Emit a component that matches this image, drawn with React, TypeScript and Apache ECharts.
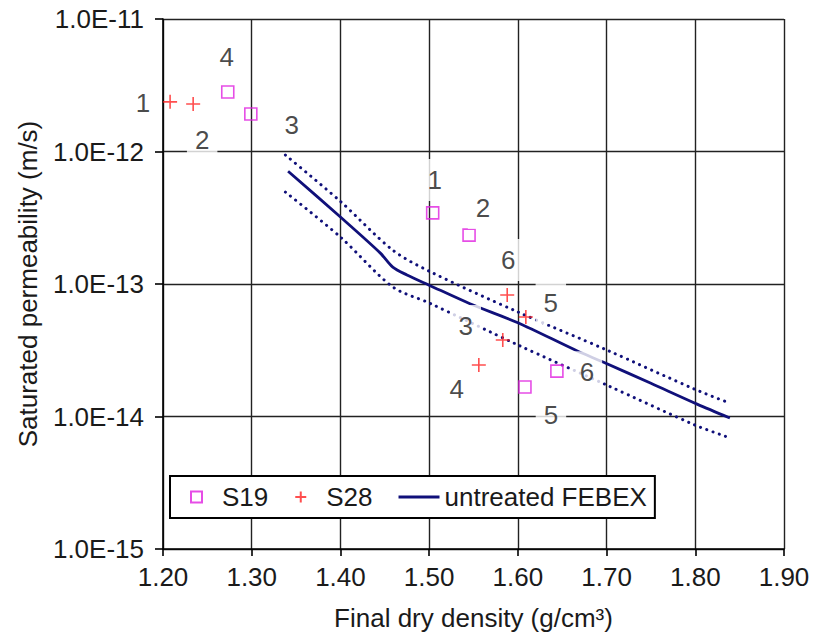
import { useEffect, useRef } from "react";
import * as echarts from "echarts";

// S19 specimens (hollow squares)
const S19_DENSITY = [1.273, 1.299, 1.504, 1.545, 1.644, 1.608];
const S19_PERM = [2.81e-12, 1.92e-12, 3.44e-13, 2.34e-13, 2.2e-14, 1.67e-14];
const S19_TAGS = ["4", "3", "1", "2", "6", "5"];

// S28 specimens (crosses)
const S28_DENSITY = [1.208, 1.234, 1.588, 1.609, 1.583, 1.556];
const S28_PERM = [2.37e-12, 2.28e-12, 8.26e-14, 5.63e-14, 3.78e-14, 2.45e-14];
const S28_TAGS = ["1", "2", "6", "5", "3", "4"];

// untreated FEBEX reference curve and its bounds
const FEBEX_DENSITY = [1.341, 1.4, 1.445, 1.459, 1.475, 1.5, 1.546, 1.6, 1.667, 1.696, 1.75, 1.802, 1.839];
const FEBEX_PERM = [7.1e-13, 3.2e-13, 1.71e-13, 1.34e-13, 1.17e-13, 9.8e-14, 7.1e-14, 5.1e-14, 3.12e-14, 2.58e-14, 1.78e-14, 1.24e-14, 9.75e-15];
const BOUND_DENSITY = [1.338, 1.4, 1.459, 1.5, 1.6, 1.7, 1.8, 1.839];
const UPPER_PERM = [9.4e-13, 4.2e-13, 1.8e-13, 1.25e-13, 6.15e-14, 3.18e-14, 1.6e-14, 1.26e-14];
const LOWER_PERM = [4.94e-13, 2.26e-13, 9.5e-14, 7.2e-14, 3.47e-14, 1.73e-14, 8.6e-15, 6.9e-15];

// where each specimen number sits relative to its marker (px)
const S19_TAG_OFFSET = [[-1, -35], [41, 11], [2, -33], [14, -27], [30, 1], [26, 28]];
const S28_TAG_OFFSET = [[-27, 1], [9, 36], [1, -35], [25, -14], [-37, -14], [-22, 24]];

const FONT = 'Arial, "Liberation Sans", sans-serif';
const FS = 26;
const INK = "#1a1a1a";
const MAGENTA = "#e020e0";
const RED = "#ff2222";
const NAVY = "#10107a";
const PLUS = "path://M5,0L5,10M0,5L10,5";
const SQUARE = "path://M0,0L10,0L10,10L0,10Z";
const BAR = "path://M0,0L40,0L40,3L0,3Z";

const tagLabel = (text: string, offset: number[]) => ({
  show: true,
  position: "inside",
  formatter: text,
  offset,
  fontSize: FS,
  fontFamily: FONT,
  color: INK,
  backgroundColor: "#ffffff",
  padding: [8, 8],
});

const pairs = (xs: number[], ys: number[]) => xs.map((x, i) => [x, ys[i]]);

export default function App() {
  const ref = useRef<HTMLDivElement>(null);

  useEffect(() => {
    if (!ref.current) return;
    const chart = echarts.init(ref.current, undefined, { renderer: "svg" });

    const axisText = { fontSize: FS, fontFamily: FONT, color: INK };
    const dotted = { color: NAVY, width: 3, type: [0.1, 6.5], cap: "round" };

    chart.setOption({
      animation: false,
      backgroundColor: "#ffffff",
      grid: { left: 163, top: 19, right: 29, bottom: 88, containLabel: false },
      xAxis: {
        type: "value",
        min: 1.2,
        max: 1.9,
        interval: 0.1,
        name: "Final dry density (g/cm³)",
        nameLocation: "middle",
        nameGap: 56,
        nameTextStyle: { fontSize: FS, fontFamily: FONT, color: INK },
        axisLine: { show: true, lineStyle: { color: "#000", width: 1.6 } },
        axisTick: { show: true, length: 7, lineStyle: { color: "#000", width: 1.6 } },
        axisLabel: { ...axisText, margin: 15, formatter: (v: number) => v.toFixed(2) },
        splitLine: { show: true, lineStyle: { color: "#222", width: 1.4 } },
      },
      yAxis: {
        type: "log",
        logBase: 10,
        min: 1e-15,
        max: 1e-11,
        name: "Saturated permeability (m/s)",
        nameLocation: "middle",
        nameGap: 122,
        nameTextStyle: { fontSize: FS, fontFamily: FONT, color: INK },
        axisLine: { show: true, lineStyle: { color: "#000", width: 1.6 } },
        axisTick: { show: true, length: 8, lineStyle: { color: "#000", width: 1.6 } },
        axisLabel: {
          ...axisText,
          margin: 19,
          formatter: (v: number) => v.toExponential(1).toUpperCase(),
        },
        splitLine: { show: true, lineStyle: { color: "#222", width: 1.4 } },
      },
      legend: {
        left: 170,
        top: 476,
        orient: "horizontal",
        data: [
          { name: "S19", icon: SQUARE },
          { name: "S28", icon: PLUS },
          { name: "untreated FEBEX", icon: BAR },
        ],
        itemWidth: 41,
        itemHeight: 11,
        itemGap: 26,
        padding: [8, 8, 8, 20],
        borderColor: "#000",
        borderWidth: 2,
        borderRadius: 0,
        backgroundColor: "#ffffff",
        textStyle: { fontSize: FS, fontFamily: FONT, color: INK },
      },
      series: [
        {
          name: "upper",
          type: "line",
          z: 2,
          smooth: 0.3,
          symbol: "none",
          silent: true,
          lineStyle: dotted,
          data: pairs(BOUND_DENSITY, UPPER_PERM),
        },
        {
          name: "lower",
          type: "line",
          z: 2,
          smooth: 0.3,
          symbol: "none",
          silent: true,
          lineStyle: dotted,
          data: pairs(BOUND_DENSITY, LOWER_PERM),
        },
        {
          name: "untreated FEBEX",
          type: "line",
          z: 2,
          smooth: 0.3,
          symbol: "none",
          itemStyle: { color: NAVY },
          lineStyle: { color: NAVY, width: 2.8 },
          data: pairs(FEBEX_DENSITY, FEBEX_PERM),
        },
        {
          name: "S19",
          type: "scatter",
          z: 4,
          symbol: SQUARE,
          symbolSize: 12,
          itemStyle: { color: "transparent", borderColor: MAGENTA, borderWidth: 1.6 },
          data: S19_DENSITY.map((x, i) => ({
            value: [x, S19_PERM[i]],
            label: tagLabel(S19_TAGS[i], S19_TAG_OFFSET[i]),
          })),
        },
        {
          name: "S28",
          type: "scatter",
          z: 4,
          symbol: PLUS,
          symbolSize: 14,
          itemStyle: { color: "transparent", borderColor: RED, borderWidth: 1.6 },
          data: S28_DENSITY.map((x, i) => ({
            value: [x, S28_PERM[i]],
            label: tagLabel(S28_TAGS[i], S28_TAG_OFFSET[i]),
          })),
        },
      ],
    });

    return () => chart.dispose();
  }, []);

  return (
    <div
      ref={ref}
      style={{ position: "fixed", left: 0, top: 0, width: 813, height: 637, background: "#fff" }}
    />
  );
}
